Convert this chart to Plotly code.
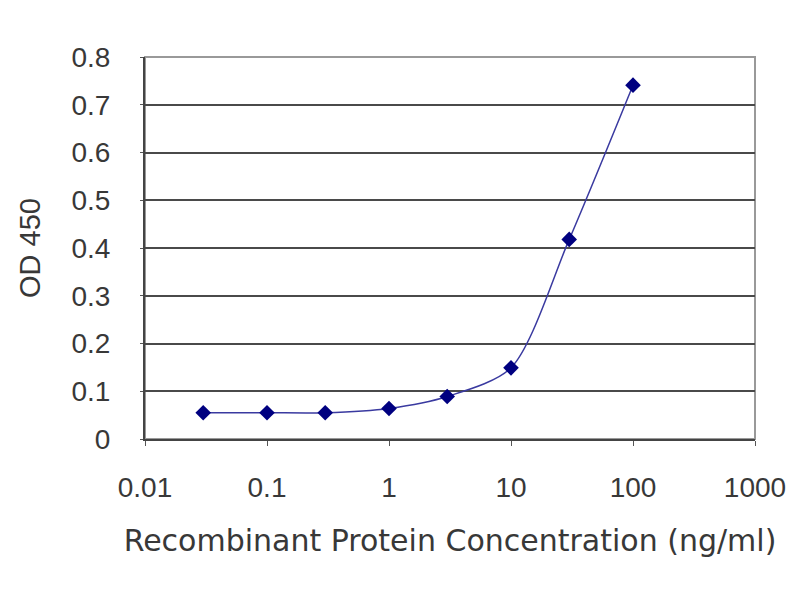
import plotly.graph_objects as go

concentration = [0.03, 0.1, 0.3, 1, 3, 10, 30, 100]
od450 = [0.055, 0.055, 0.055, 0.064, 0.089, 0.149, 0.418, 0.741]

x_ticks = [0.01, 0.1, 1, 10, 100, 1000]
x_tick_labels = ["0.01", "0.1", "1", "10", "100", "1000"]
y_ticks = [0, 0.1, 0.2, 0.3, 0.4, 0.5, 0.6, 0.7, 0.8]
y_tick_labels = ["0", "0.1", "0.2", "0.3", "0.4", "0.5", "0.6", "0.7", "0.8"]

font_family = "Liberation Sans, Arial, sans-serif"
text_color = '#383838'

fig = go.Figure()
fig.add_trace(go.Scatter(
    x=concentration, y=od450, mode='lines+markers',
    line=dict(color='#3a3aa0', width=1.5, shape='spline', smoothing=0.8),
    marker=dict(symbol='diamond', size=12, color='#000080'),
    showlegend=False
))

# page body adds an 8px offset, so margins are shifted to put the plot area at 145..755 x 57..439
fig.update_layout(
    width=800, height=600,
    margin=dict(l=137, r=53, t=49, b=169),
    paper_bgcolor='white', plot_bgcolor='white',
    font=dict(family=font_family, color=text_color),
    xaxis=dict(
        type='log', range=[-2, 3],
        tickvals=x_ticks, ticktext=x_tick_labels,
        tickfont=dict(size=28, color=text_color),
        ticks='outside', ticklen=5, tickcolor='#555555',
        ticklabelstandoff=17,
        showgrid=False, zeroline=False,
        showline=True, linecolor='#444444', linewidth=2,
        title=dict(text='Recombinant Protein Concentration (ng/ml)',
                   font=dict(family='DejaVu Sans, sans-serif', size=30, color=text_color),
                   standoff=28),
    ),
    yaxis=dict(
        range=[0, 0.8],
        tickvals=y_ticks, ticktext=y_tick_labels,
        tickfont=dict(size=28, color=text_color),
        ticks='outside', ticklen=3, tickcolor='#555555',
        ticklabelstandoff=24,
        showgrid=True, gridcolor='#4a4a4a', gridwidth=2,
        zeroline=False,
        showline=True, linecolor='#444444', linewidth=2,
        title=dict(text='OD 450', font=dict(size=29, color=text_color), standoff=22),
    ),
    shapes=[dict(type='rect', xref='paper', yref='paper', x0=0, y0=0, x1=1, y1=1,
                 line=dict(color='#999999', width=2), layer='below')],
)

fig.write_html("out.html")
